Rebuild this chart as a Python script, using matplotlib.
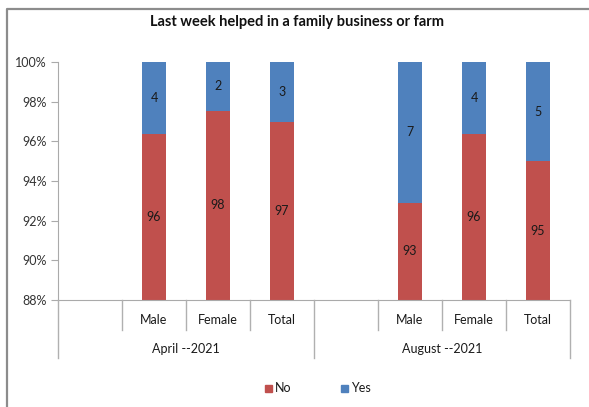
import matplotlib.pyplot as plt
from matplotlib.patches import Rectangle
from matplotlib.lines import Line2D

plt.rcParams['font.family'] = ['Lato', 'DejaVu Sans']

# data (share of respondents, %)
groups = ['April --2021', 'August --2021']
categories = ['', 'Male', 'Female', 'Total', '', 'Male', 'Female', 'Total']
no_vals = [None, 96.35, 97.55, 97.0, None, 92.9, 96.35, 95.0]
yes_vals = [None, 3.65, 2.45, 3.0, None, 7.1, 3.65, 5.0]

red = '#C0504D'
blue = '#4F81BD'
txt = '#1a1a1a'
gray = '#b0b0b0'
ymin = 88

W, H = 589, 407
fig = plt.figure(figsize=(W / 100, H / 100), dpi=100)
ax = fig.add_axes([58 / W, (H - 300) / H, 512 / W, 238 / H])

def fy(py):
    # pixel row from top -> figure fraction
    return (H - py) / H

# outer chart frame (only left and top edges show in the reference)
fig.add_artist(Line2D([6.5 / W, 6.5 / W, 1], [0, fy(8.5), fy(8.5)],
                      transform=fig.transFigure, color='#8c8c8c', lw=1.6))

# stacked bars
bw = 0.39
for i, (n, y) in enumerate(zip(no_vals, yes_vals)):
    if n is None:
        continue
    ax.bar(i, n - ymin, bottom=ymin, width=bw, color=red)
    ax.bar(i, y, bottom=n, width=bw, color=blue)
    ax.text(i, (ymin + n) / 2, f'{round(n)}', ha='center', va='center', fontsize=9, color=txt)
    ax.text(i, n + y / 2, f'{round(y)}', ha='center', va='center', fontsize=9, color=txt)

ax.set_xlim(-0.5, len(categories) - 0.5)
ax.set_ylim(ymin, 100)
ax.set_yticks(range(88, 101, 2))
ax.set_yticklabels([f'{v}%' for v in range(88, 101, 2)], fontsize=9, color='#333333')
ax.tick_params(axis='y', length=5, color='#aaaaaa', pad=3)
ax.set_xticks([])
for s in ['top', 'right']:
    ax.spines[s].set_visible(False)
for s in ['left', 'bottom']:
    ax.spines[s].set_color('#aaaaaa')

# two-level category axis
def fx(xd):
    return ax.transData.transform((xd, ymin))[0] / W

for k in range(len(categories) + 1):
    bottom = 358 if k % 4 == 0 else 330
    fig.add_artist(Line2D([fx(k - 0.5)] * 2, [fy(300), fy(bottom)],
                          transform=fig.transFigure, color=gray, lw=1))

for i, c in enumerate(categories):
    if c:
        fig.text(fx(i), fy(320), c, ha='center', va='center', fontsize=9, color=txt)
for g, name in enumerate(groups):
    fig.text(fx(g * 4 + 1.5), fy(349), name, ha='center', va='center', fontsize=9, color=txt)

fig.text(297 / W, fy(22), 'Last week helped in a family business or farm', ha='center',
         va='center', fontsize=10.5, fontweight='bold', color='#111111')

# legend
for xs, col, lab in [(265, red, 'No'), (341, blue, 'Yes')]:
    fig.add_artist(Rectangle((xs / W, fy(391.5)), 7 / W, 7 / H,
                             transform=fig.transFigure, color=col))
    fig.text((xs + 10) / W, fy(388), lab, ha='left', va='center', fontsize=9, color=txt)

fig.savefig('out.png', dpi=100)
